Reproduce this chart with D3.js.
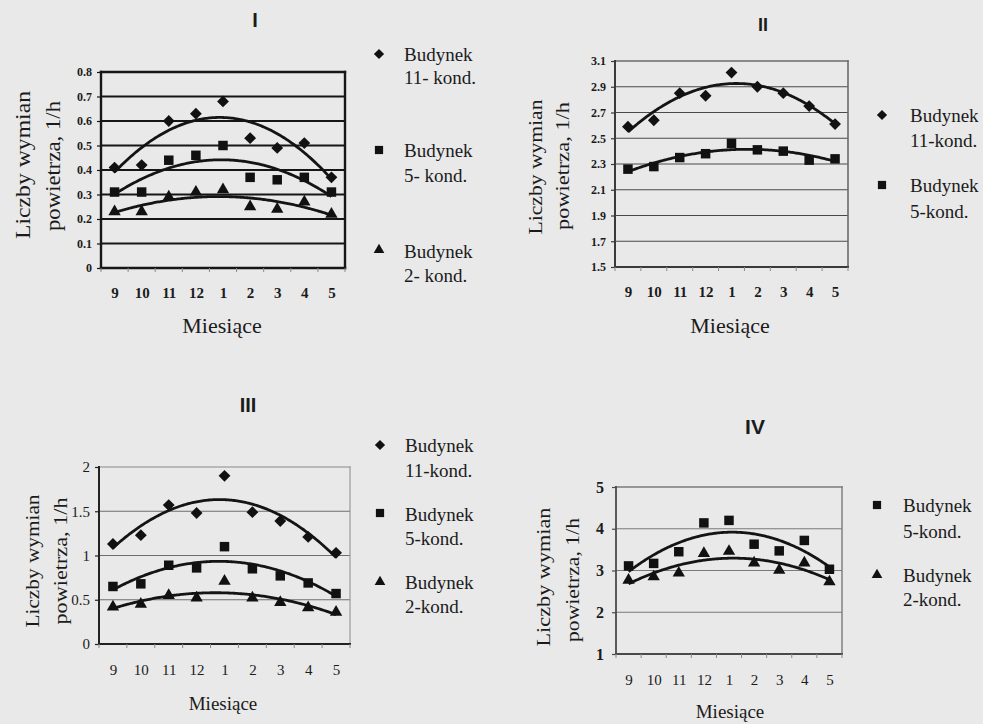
<!DOCTYPE html>
<html>
<head>
<meta charset="utf-8">
<script src="https://cdn.jsdelivr.net/npm/d3@7"></script>
<style>
  html, body { margin: 0; padding: 0; background: #e9e9e9; }
  svg { display: block; }
</style>
</head>
<body>
<svg id="fig" width="983" height="724"></svg>
<script>
// ---- categories (months of the heating season) ----
const months = ["9", "10", "11", "12", "1", "2", "3", "4", "5"];

// ---- panel I : air change rates, 1/h ----
const i_b11 = [0.41, 0.42, 0.60, 0.63, 0.68, 0.53, 0.49, 0.51, 0.37];
const i_b5  = [0.31, 0.31, 0.44, 0.46, 0.50, 0.37, 0.36, 0.37, 0.31];
const i_b2  = [0.23, 0.23, 0.29, 0.31, 0.32, 0.25, 0.24, 0.27, 0.22];
const i_ticks = [0, 0.1, 0.2, 0.3, 0.4, 0.5, 0.6, 0.7, 0.8];
const i_tickLabels = ["0", "0.1", "0.2", "0.3", "0.4", "0.5", "0.6", "0.7", "0.8"];

// ---- panel II ----
const ii_b11 = [2.59, 2.64, 2.85, 2.83, 3.01, 2.90, 2.85, 2.75, 2.61];
const ii_b5  = [2.26, 2.28, 2.35, 2.38, 2.46, 2.41, 2.40, 2.33, 2.34];
const ii_ticks = [1.5, 1.7, 1.9, 2.1, 2.3, 2.5, 2.7, 2.9, 3.1];
const ii_tickLabels = ["1.5", "1.7", "1.9", "2.1", "2.3", "2.5", "2.7", "2.9", "3.1"];

// ---- panel III ----
const iii_b11 = [1.13, 1.23, 1.57, 1.48, 1.90, 1.49, 1.39, 1.21, 1.03];
const iii_b5  = [0.65, 0.68, 0.89, 0.86, 1.10, 0.85, 0.77, 0.69, 0.57];
const iii_b2  = [0.42, 0.45, 0.55, 0.52, 0.71, 0.52, 0.47, 0.41, 0.36];
const iii_ticks = [0, 0.5, 1, 1.5, 2];
const iii_tickLabels = ["0", "0.5", "1", "1.5", "2"];

// ---- panel IV ----
const iv_b5 = [3.11, 3.17, 3.45, 4.14, 4.20, 3.63, 3.47, 3.72, 3.03];
const iv_b2 = [2.77, 2.85, 2.94, 3.41, 3.46, 3.18, 3.01, 3.18, 2.73];
const iv_ticks = [1, 2, 3, 4, 5];
const iv_tickLabels = ["1", "2", "3", "4", "5"];

// ---- shared text ----
const yTitleLines = ["Liczby wymian", "powietrza, 1/h"];
const xTitle = "Miesiące";

const SERIF = "'Liberation Serif', 'Times New Roman', serif";
const SANS = "'Liberation Sans', Arial, sans-serif";
const INK = "#1b1b1b";

// marker shapes: an equal-sided diamond, a square and a triangle
const diamondType = {
  draw(ctx, size) {
    const r = Math.sqrt(size) / 2;
    ctx.moveTo(0, -r); ctx.lineTo(r, 0); ctx.lineTo(0, r); ctx.lineTo(-r, 0); ctx.closePath();
  }
};
const symbolTypes = { diamond: diamondType, square: d3.symbolSquare, triangle: d3.symbolTriangle };
const symbolSizes = { diamond: 140, square: 90, triangle: 66 };

// second-order least-squares trend y = a + b t + c t^2
function quadFit(vals) {
  let n = vals.length, s1 = 0, s2 = 0, s3 = 0, s4 = 0, sy = 0, sty = 0, st2y = 0;
  vals.forEach((v, t) => {
    s1 += t; s2 += t * t; s3 += t ** 3; s4 += t ** 4;
    sy += v; sty += t * v; st2y += t * t * v;
  });
  const M = [[n, s1, s2], [s1, s2, s3], [s2, s3, s4]];
  const R = [sy, sty, st2y];
  const det = m => m[0][0] * (m[1][1] * m[2][2] - m[1][2] * m[2][1])
                 - m[0][1] * (m[1][0] * m[2][2] - m[1][2] * m[2][0])
                 + m[0][2] * (m[1][0] * m[2][1] - m[1][1] * m[2][0]);
  const D = det(M);
  const coef = [0, 1, 2].map(k => det(M.map((row, r) => row.map((c, j) => j === k ? R[r] : c))) / D);
  return t => coef[0] + coef[1] * t + coef[2] * t * t;
}

const svg = d3.select("#fig");

function drawPanel(p) {
  const g = svg.append("g");
  const x = d3.scalePoint().domain(months).range([p.x0, p.x1]).padding(0.5);
  const band = d3.scaleBand().domain(months).range([p.x0, p.x1]);
  const y = d3.scaleLinear().domain(p.domain).range([p.y1, p.y0]);

  // horizontal gridlines
  g.append("g").selectAll("line")
    .data(p.ticks.filter(v => v !== p.domain[0] && v !== p.domain[1]))
    .join("line")
    .attr("x1", p.x0).attr("x2", p.x1)
    .attr("y1", d => y(d)).attr("y2", d => y(d))
    .attr("stroke", p.grid.color).attr("stroke-width", p.grid.width);

  // plot frame
  const f = p.frame;
  const edges = [
    { x1: p.x0, y1: p.y0, x2: p.x1, y2: p.y0, c: f.far, w: f.farW },   // top
    { x1: p.x1, y1: p.y0, x2: p.x1, y2: p.y1, c: f.far, w: f.farW },   // right
    { x1: p.x0, y1: p.y0, x2: p.x0, y2: p.y1, c: f.near, w: f.nearW }, // left axis
    { x1: p.x0, y1: p.y1, x2: p.x1, y2: p.y1, c: f.near, w: f.nearW }  // bottom axis
  ];
  g.append("g").selectAll("line").data(edges).join("line")
    .attr("x1", d => d.x1).attr("y1", d => d.y1)
    .attr("x2", d => d.x2).attr("y2", d => d.y2)
    .attr("stroke", d => d.c).attr("stroke-width", d => d.w)
    .attr("stroke-linecap", "square");

  // value axis
  const yAxis = d3.axisLeft(y)
    .tickValues(p.ticks)
    .tickFormat((d, i) => p.tickLabels[i])
    .tickSize(p.tickLen)
    .tickPadding(p.tickPad);
  const ya = g.append("g").attr("transform", `translate(${p.x0},0)`).call(yAxis);
  ya.select(".domain").remove();
  ya.selectAll(".tick line").attr("stroke", f.near).attr("stroke-width", 1.2);
  ya.selectAll(".tick text")
    .attr("fill", INK)
    .style("font-family", SERIF)
    .style("font-size", p.tickFont + "px")
    .style("font-weight", p.tickBold ? "bold" : "normal");

  // category axis: labels at category centres
  const xAxis = d3.axisBottom(x).tickSize(0);
  const xa = g.append("g").attr("transform", `translate(0,${p.y1})`).call(xAxis);
  xa.select(".domain").remove();
  xa.selectAll(".tick text")
    .attr("y", p.catY - p.y1).attr("dy", "0.35em")
    .attr("fill", INK)
    .style("font-family", SERIF)
    .style("font-size", p.catFont + "px")
    .style("font-weight", p.catBold ? "bold" : "normal");

  // small tick marks at category boundaries
  const bounds = months.map(m => band(m)).concat([p.x1]);
  g.append("g").selectAll("line").data(bounds).join("line")
    .attr("x1", d => d).attr("x2", d => d)
    .attr("y1", p.y1).attr("y2", p.y1 + 4)
    .attr("stroke", "#8a8a8a").attr("stroke-width", 1);

  // fitted trend curves
  const x0c = x(months[0]), step = x.step();
  const ts = d3.range(0, months.length - 1 + 1e-9, 0.05);
  const line = d3.line().x(d => d[0]).y(d => d[1]);
  p.series.forEach(s => {
    const fit = quadFit(s.values);
    g.append("path")
      .attr("d", line(ts.map(t => [x0c + t * step, y(fit(t))])))
      .attr("fill", "none").attr("stroke", "#141414")
      .attr("stroke-width", 2.8);
  });

  // data markers
  p.series.forEach(s => {
    const sym = d3.symbol().type(symbolTypes[s.sym]).size(symbolSizes[s.sym]);
    g.append("g").selectAll("path").data(s.values).join("path")
      .attr("transform", (d, i) => `translate(${x(months[i])},${y(d)})`)
      .attr("d", sym)
      .attr("fill", "#111");
  });

  // legend
  p.legend.forEach(L => {
    const sym = d3.symbol().type(symbolTypes[L.sym]).size(symbolSizes[L.sym] * 0.75);
    g.append("path").attr("transform", `translate(${p.legX},${L.y})`).attr("d", sym).attr("fill", "#111");
    L.lines.forEach((txt, k) => {
      g.append("text")
        .attr("x", p.legTextX).attr("y", L.base[k])
        .attr("fill", INK)
        .style("font-family", SERIF)
        .style("font-size", p.legFont + "px")
        .text(txt);
    });
  });

  // panel numeral
  g.append("text")
    .attr("x", p.title.x).attr("y", p.title.y).attr("dy", "0.35em")
    .attr("text-anchor", "middle")
    .attr("fill", INK)
    .style("font-family", SANS).style("font-weight", "bold")
    .style("font-size", p.title.size + "px")
    .text(p.title.text);

  // value-axis title, two rotated lines
  p.yTitle.forEach((t, k) => {
    g.append("text")
      .attr("transform", `translate(${t.x},${t.y}) rotate(-90)`)
      .attr("dy", "0.35em")
      .attr("text-anchor", "middle")
      .attr("textLength", t.len).attr("lengthAdjust", "spacingAndGlyphs")
      .attr("fill", INK)
      .style("font-family", SERIF)
      .style("font-size", p.yTitleFont + "px")
      .text(yTitleLines[k]);
  });

  // category-axis title
  g.append("text")
    .attr("x", p.xTitle.x).attr("y", p.xTitle.y).attr("dy", "0.35em")
    .attr("text-anchor", "middle")
    .attr("fill", INK)
    .style("font-family", SERIF)
    .style("font-size", p.xTitle.size + "px")
    .text(xTitle);
}

// ---- panel I ----
drawPanel({
  x0: 101, x1: 345, y0: 72, y1: 268,
  domain: [0, 0.8], ticks: i_ticks, tickLabels: i_tickLabels,
  grid: { color: "#161616", width: 2 },
  frame: { near: "#161616", nearW: 2.4, far: "#161616", farW: 2.4 },
  tickLen: 4, tickPad: 5, tickFont: 12, tickBold: true,
  catY: 293, catFont: 15, catBold: true,
  series: [
    { values: i_b11, sym: "diamond" },
    { values: i_b5, sym: "square" },
    { values: i_b2, sym: "triangle" }
  ],
  legX: 379, legTextX: 404, legFont: 19,
  legend: [
    { sym: "diamond", y: 54, lines: ["Budynek", "11- kond."], base: [61, 84] },
    { sym: "square", y: 150, lines: ["Budynek", "5- kond."], base: [157, 182] },
    { sym: "triangle", y: 250, lines: ["Budynek", "2- kond."], base: [258, 282] }
  ],
  title: { text: "I", x: 255, y: 20, size: 20 },
  yTitleFont: 20,
  yTitle: [{ x: 23, y: 165, len: 148 }, { x: 53, y: 166, len: 130 }],
  xTitle: { x: 222, y: 325, size: 22 }
});

// ---- panel II ----
drawPanel({
  x0: 615, x1: 848, y0: 61, y1: 267,
  domain: [1.5, 3.1], ticks: ii_ticks, tickLabels: ii_tickLabels,
  grid: { color: "#4a4a4a", width: 1.2 },
  frame: { near: "#3a3a3a", nearW: 2, far: "#6a6a6a", farW: 1.6 },
  tickLen: 4, tickPad: 5, tickFont: 12, tickBold: true,
  catY: 292, catFont: 15, catBold: true,
  series: [
    { values: ii_b11, sym: "diamond" },
    { values: ii_b5, sym: "square" }
  ],
  legX: 882, legTextX: 910, legFont: 19,
  legend: [
    { sym: "diamond", y: 115, lines: ["Budynek", "11-kond."], base: [122, 147] },
    { sym: "square", y: 185, lines: ["Budynek", "5-kond."], base: [192, 218] }
  ],
  title: { text: "II", x: 763, y: 25, size: 18 },
  yTitleFont: 19,
  yTitle: [{ x: 535, y: 167, len: 135 }, { x: 562, y: 166, len: 128 }],
  xTitle: { x: 730, y: 325, size: 22 }
});

// ---- panel III ----
drawPanel({
  x0: 99, x1: 350, y0: 467, y1: 644,
  domain: [0, 2], ticks: iii_ticks, tickLabels: iii_tickLabels,
  grid: { color: "#6e6e6e", width: 1 },
  frame: { near: "#222", nearW: 2, far: "#8a8a8a", farW: 1 },
  tickLen: 4, tickPad: 5, tickFont: 15, tickBold: false,
  catY: 670, catFont: 15, catBold: false,
  series: [
    { values: iii_b11, sym: "diamond" },
    { values: iii_b5, sym: "square" },
    { values: iii_b2, sym: "triangle" }
  ],
  legX: 380, legTextX: 405, legFont: 19,
  legend: [
    { sym: "diamond", y: 445, lines: ["Budynek", "11-kond."], base: [452, 477] },
    { sym: "square", y: 513, lines: ["Budynek", "5-kond."], base: [521, 545] },
    { sym: "triangle", y: 582, lines: ["Budynek", "2-kond."], base: [589, 613] }
  ],
  title: { text: "III", x: 248, y: 405, size: 20 },
  yTitleFont: 19,
  yTitle: [{ x: 32, y: 561, len: 133 }, { x: 60, y: 561, len: 127 }],
  xTitle: { x: 223, y: 703, size: 19 }
});

// ---- panel IV ----
drawPanel({
  x0: 616, x1: 842, y0: 487, y1: 654,
  domain: [1, 5], ticks: iv_ticks, tickLabels: iv_tickLabels,
  grid: { color: "#7a7a7a", width: 1 },
  frame: { near: "#4a4a4a", nearW: 1.8, far: "#7a7a7a", farW: 1.4 },
  tickLen: 4, tickPad: 8, tickFont: 16, tickBold: true,
  catY: 680, catFont: 15, catBold: false,
  series: [
    { values: iv_b5, sym: "square" },
    { values: iv_b2, sym: "triangle" }
  ],
  legX: 877, legTextX: 903, legFont: 19,
  legend: [
    { sym: "square", y: 505, lines: ["Budynek", "5-kond."], base: [512, 538] },
    { sym: "triangle", y: 575, lines: ["Budynek", "2-kond."], base: [582, 606] }
  ],
  title: { text: "IV", x: 755, y: 427, size: 21 },
  yTitleFont: 19,
  yTitle: [{ x: 543, y: 577, len: 139 }, { x: 572, y: 580, len: 124 }],
  xTitle: { x: 730, y: 711, size: 19 }
});
</script>
</body>
</html>
